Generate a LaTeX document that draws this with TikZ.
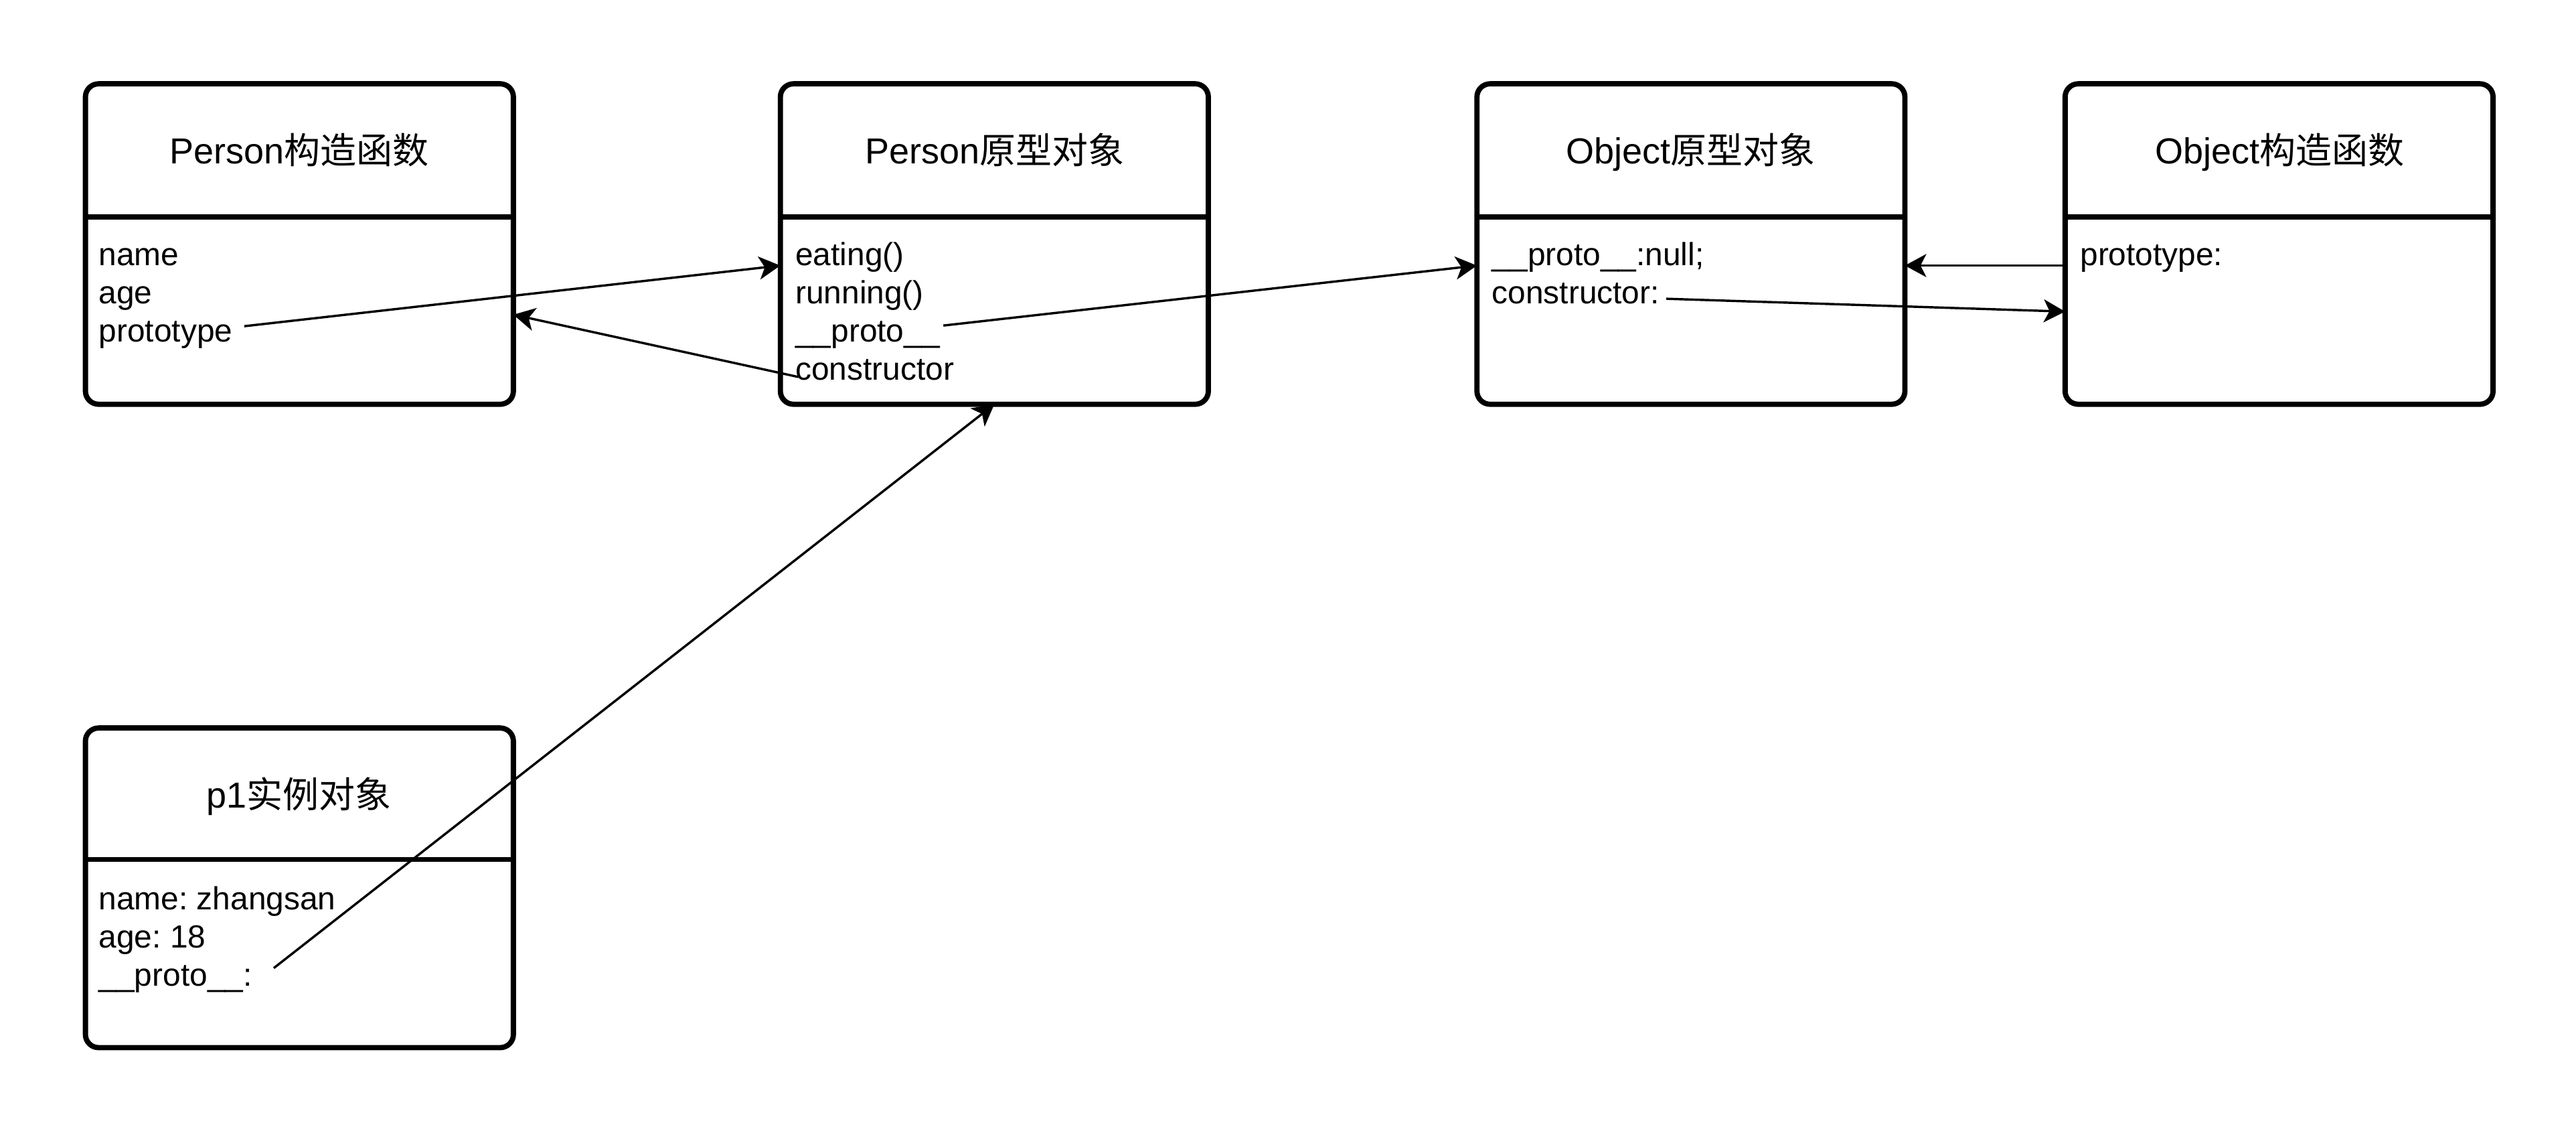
\documentclass[tikz,border=0pt]{standalone}
\usepackage{fontspec}
\setmainfont{Liberation Sans}
\newfontfamily\cjk{Noto Sans CJK SC}
\usetikzlibrary{arrows.meta,calc}
\frenchspacing
\begin{document}
\begin{tikzpicture}[x=1pt,y=-1pt,
  box/.style={draw, line width=3.2pt, rounded corners=8pt, minimum width=260.5pt, minimum height=195pt, inner sep=0pt, outer sep=0pt, anchor=north west},
  divider/.style={line width=3.2pt},
  title/.style={font=\fontsize{22}{26}\selectfont, inner sep=0pt, anchor=base},
  field/.style={font=\fontsize{19.5}{23.3}\selectfont, inner sep=0pt, anchor=base west},
  link/.style={line width=1.4pt, -{Stealth[length=13pt,width=14pt,inset=3.5pt]}}
]
\useasboundingbox (0,0) rectangle (1568,688);

% boxes
\node[box] (B1) at (52,51) {};
\node[box] (B2) at (475,51) {};
\node[box] (B3) at (899,51) {};
\node[box] (B4) at (1257,51) {};
\node[box, minimum height=194.5pt] (B5) at (52,443) {};

% dividers
\draw[divider] (B1.west |- 0,132) -- (B1.east |- 0,132);
\draw[divider] (B2.west |- 0,132) -- (B2.east |- 0,132);
\draw[divider] (B3.west |- 0,132) -- (B3.east |- 0,132);
\draw[divider] (B4.west |- 0,132) -- (B4.east |- 0,132);
\draw[divider] (B5.west |- 0,523) -- (B5.east |- 0,523);

% titles
\node[title] (T1) at (182,99.5) {Person\cjk{构造函数}};
\node[title] (T2) at (605.5,99.5) {Person\cjk{原型对象}};
\node[title] (T3) at (1029,99.5) {Object\cjk{原型对象}};
\node[title] (T4) at (1387.5,99.5) {Object\cjk{构造函数}};
\node[title] (T5) at (182,491.5) {p1\cjk{实例对象}};

% fields
\node[field] (f11) at (60,161.5) {name};
\node[field] (f12) at (60,184.8) {age};
\node[field] (f13) at (60,208.1) {prototype};

\node[field] (f21) at (484,161.5) {eating()};
\node[field] (f22) at (484,184.8) {running()};
\node[field] (f23) at (484,208.1) {\_\_proto\_\_};
\node[field] (f24) at (484,231.4) {constructor};

\node[field] (f31) at (908,161.5) {\_\_proto\_\_:null;};
\node[field] (f32) at (908,184.8) {constructor:};

\node[field] (f41) at (1266,161.5) {prototype:};

\node[field] (f51) at (60,553.5) {name: zhangsan};
\node[field] (f52) at (60,576.8) {age: 18};
\node[field] (f53) at (60,600.1) {\_\_proto\_\_:};

% connectors
\draw[link] ($(f13.base east)+(7,-9.6)$) -- (B2.west |- 0,161.6);
\draw[link] ($(f24.base west)+(2,-2)$) -- (B1.east |- 0,191.5);
\draw[link] ($(f23.base east)+(2,-10)$) -- (B3.west |- 0,161.6);
\draw[link] (B4.west |- 0,161.6) -- (B3.east |- 0,161.6);
\draw[link] ($(f32.base east)+(4,-3)$) -- (B4.west |- 0,189.6);
\draw[link] ($(f53.base east)+(13,-11)$) -- (B2.south);
\end{tikzpicture}
\end{document}
